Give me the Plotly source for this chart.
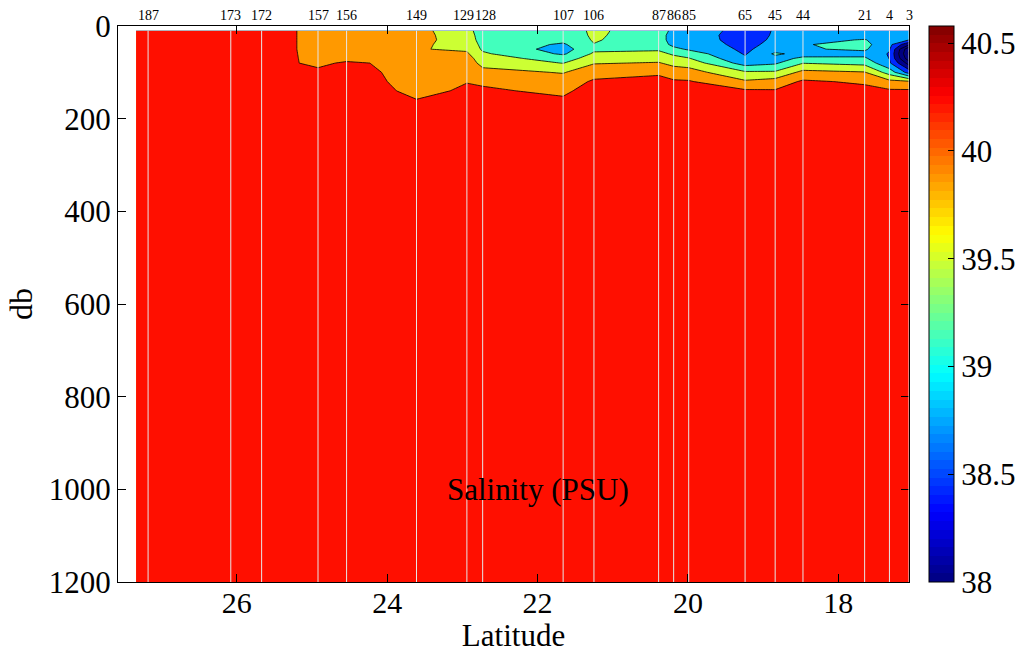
import plotly.graph_objects as go

# ---------------- data ----------------
depth_db = [10, 20, 30, 40, 50, 60, 70, 80, 100, 120, 140, 160, 200, 300, 500, 800, 1200]

# latitude of each gridded profile (first column is the western data edge)
grid_lat = [27.34, 27.18, 26.08, 25.67, 24.92, 24.54, 23.61, 22.94, 22.73, 21.66,
            21.25, 20.39, 20.19, 19.99, 19.24, 18.84, 18.47, 17.65, 17.32, 17.06]

station_lat = [27.18, 26.08, 25.67, 24.92, 24.54, 23.61, 22.94, 22.73, 21.66, 21.25,
               20.39, 20.19, 19.99, 19.24, 18.84, 18.47, 17.65, 17.32, 17.06]
station_id = ["187", "173", "172", "157", "156", "149", "129", "128", "107", "106",
              "87", "86", "85", "65", "45", "44", "21", "4", "3"]

# salinity (PSU) profiles at depth_db
sal_edge = [40.30, 40.30, 40.31, 40.32, 40.33, 40.34, 40.35, 40.36, 40.38, 40.40, 40.41, 40.42, 40.44, 40.47, 40.50, 40.52, 40.54]
sal_187 = [40.32, 40.32, 40.33, 40.34, 40.35, 40.36, 40.37, 40.38, 40.40, 40.41, 40.42, 40.43, 40.45, 40.48, 40.50, 40.52, 40.54]
sal_173 = [40.38, 40.38, 40.39, 40.40, 40.40, 40.41, 40.42, 40.42, 40.43, 40.44, 40.45, 40.46, 40.47, 40.49, 40.51, 40.53, 40.55]
sal_172 = [40.45, 40.45, 40.45, 40.45, 40.45, 40.45, 40.45, 40.45, 40.46, 40.47, 40.48, 40.48, 40.49, 40.50, 40.52, 40.53, 40.55]
sal_157 = [39.97, 39.97, 39.97, 39.97, 39.97, 39.98, 39.99, 40.00, 40.30, 40.35, 40.40, 40.42, 40.44, 40.48, 40.51, 40.53, 40.55]
sal_156 = [39.95, 39.95, 39.95, 39.95, 39.95, 39.95, 39.95, 40.25, 40.32, 40.36, 40.40, 40.42, 40.44, 40.48, 40.51, 40.53, 40.55]
sal_149 = [39.92, 39.92, 39.90, 39.85, 39.82, 39.88, 39.92, 39.95, 39.98, 40.00, 40.05, 40.16, 40.35, 40.45, 40.50, 40.53, 40.55]
sal_129 = [39.55, 39.60, 39.65, 39.70, 39.75, 39.85, 39.95, 39.98, 40.05, 40.14, 40.20, 40.30, 40.40, 40.46, 40.50, 40.53, 40.55]
sal_128 = [39.30, 39.30, 39.30, 39.35, 39.40, 39.50, 39.60, 39.70, 39.90, 40.10, 40.20, 40.30, 40.40, 40.46, 40.50, 40.53, 40.55]
sal_107 = [39.30, 39.25, 39.20, 39.05, 38.95, 39.05, 39.30, 39.44, 39.78, 39.95, 40.08, 40.20, 40.38, 40.45, 40.50, 40.53, 40.55]
sal_106 = [39.50, 39.50, 39.48, 39.44, 39.38, 39.50, 39.60, 39.78, 40.00, 40.20, 40.30, 40.36, 40.42, 40.47, 40.50, 40.53, 40.55]
sal_87 = [39.30, 39.25, 39.25, 39.30, 39.40, 39.55, 39.70, 39.82, 40.10, 40.25, 40.35, 40.40, 40.44, 40.48, 40.51, 40.53, 40.55]
sal_86 = [39.00, 38.95, 38.95, 39.00, 39.20, 39.40, 39.55, 39.72, 39.95, 40.20, 40.30, 40.38, 40.44, 40.48, 40.51, 40.53, 40.55]
sal_85 = [38.95, 38.90, 38.90, 38.95, 39.05, 39.30, 39.47, 39.65, 39.95, 40.18, 40.30, 40.38, 40.44, 40.48, 40.51, 40.53, 40.55]
sal_65 = [38.62, 38.62, 38.63, 38.65, 38.68, 38.72, 38.80, 38.95, 39.50, 39.85, 40.20, 40.32, 40.42, 40.47, 40.50, 40.53, 40.55]
sal_45 = [38.77, 38.78, 38.80, 38.85, 38.95, 39.15, 39.00, 39.05, 39.50, 39.95, 40.18, 40.30, 40.40, 40.46, 40.50, 40.53, 40.55]
sal_44 = [38.90, 38.95, 39.00, 39.08, 39.07, 39.00, 39.15, 39.44, 39.90, 40.20, 40.30, 40.37, 40.43, 40.47, 40.50, 40.53, 40.55]
sal_21 = [38.90, 38.95, 39.12, 39.20, 39.15, 39.00, 39.15, 39.35, 39.82, 40.10, 40.25, 40.35, 40.42, 40.47, 40.50, 40.53, 40.55]
sal_4 = [38.95, 38.95, 38.90, 38.85, 38.78, 38.72, 38.74, 38.80, 39.30, 39.90, 40.20, 40.32, 40.42, 40.47, 40.50, 40.53, 40.55]
sal_3 = [38.90, 38.85, 38.75, 38.10, 37.40, 37.30, 37.45, 37.90, 38.60, 39.85, 40.20, 40.32, 40.42, 40.47, 40.50, 40.53, 40.55]

profiles = [sal_edge, sal_187, sal_173, sal_172, sal_157, sal_156, sal_149, sal_129, sal_128,
            sal_107, sal_106, sal_87, sal_86, sal_85, sal_65, sal_45, sal_44, sal_21, sal_4, sal_3]

cbar_ticks = [38, 38.5, 39, 39.5, 40, 40.5]
cbar_min, cbar_max = 38.0, 40.58

# ---------------- styling ----------------
FONT = "Liberation Serif"

# table (depth rows x latitude columns)
z = [[p[i] for p in profiles] for i in range(len(depth_db))]

# fill colours for the 10 contour bands (below 37.35 ... above 40.15)
band_colors = ["rgb(0,0,128)", "rgb(0,0,128)", "rgb(0,0,128)", "rgb(0,0,143)",
               "rgb(0,41,255)", "rgb(0,168,255)", "rgb(66,255,189)",
               "rgb(204,255,51)", "rgb(255,153,0)", "rgb(255,15,0)"]
nb = len(band_colors) - 1
band_scale = [[j / nb, c] for j, c in enumerate(band_colors)]


def jet(x):
    def cl(v):
        return max(0.0, min(1.0, v))
    r = cl(1.5 - abs(4 * x - 3))
    g = cl(1.5 - abs(4 * x - 2))
    b = cl(1.5 - abs(4 * x - 1))
    return "rgb(%d,%d,%d)" % (round(r * 255), round(g * 255), round(b * 255))


jet64 = []
for k in range(64):
    c = jet((k + 0.5) / 64)
    jet64.append([k / 64, c])
    jet64.append([(k + 1) / 64, c])

fig = go.Figure()

fig.add_trace(go.Contour(
    x=grid_lat, y=depth_db, z=z,
    autocontour=False,
    contours=dict(start=37.35, end=40.15, size=0.35, coloring="fill", showlines=True),
    line=dict(color="black", width=0.8, smoothing=0),
    colorscale=band_scale, showscale=False, hoverinfo="skip",
))

# colour bar (continuous jet)
fig.add_trace(go.Scatter(
    x=[None], y=[None], mode="markers", showlegend=False, hoverinfo="skip",
    marker=dict(color=[cbar_min], cmin=cbar_min, cmax=cbar_max, colorscale=jet64,
                showscale=True,
                colorbar=dict(x=(929 - 118) / 791, xanchor="left", xpad=0, ypad=0,
                              y=0.5, yanchor="middle", len=1, lenmode="fraction",
                              thickness=25, thicknessmode="pixels",
                              outlinewidth=1, outlinecolor="black",
                              tickvals=cbar_ticks, ticks="inside", ticklen=6,
                              tickcolor="black",
                              tickfont=dict(family=FONT, size=31, color="black"))),
))

# station lines
for lat in station_lat:
    fig.add_shape(type="line", xref="x", yref="y", x0=lat, x1=lat,
                  y0=depth_db[0], y1=depth_db[-1],
                  line=dict(color="rgb(230,230,230)", width=1), layer="above")

# station labels (the two crowded ones nudged apart slightly)
label_nudge = {"129": -3, "128": 3}
for lat, sid in zip(station_lat, station_id):
    fig.add_annotation(x=lat, y=1, xref="x", yref="paper", yanchor="bottom",
                       text=sid, showarrow=False, yshift=1,
                       xshift=label_nudge.get(sid, 0),
                       font=dict(family=FONT, size=14, color="black"))

fig.add_annotation(x=22, y=1000, xref="x", yref="y", text="Salinity (PSU)",
                   showarrow=False, font=dict(family=FONT, size=31, color="black"))

axis_common = dict(ticks="inside", ticklen=8, tickcolor="black", showline=True,
                   linecolor="black", linewidth=1, mirror="ticks", showgrid=False,
                   zeroline=False)

fig.update_layout(
    width=1019, height=653,
    margin=dict(l=118, r=110, t=26, b=71, autoexpand=False),
    paper_bgcolor="white", plot_bgcolor="white",
    showlegend=False,
    xaxis=dict(range=[27.58, 17.06], tickvals=[26, 24, 22, 20, 18],
               tickfont=dict(family=FONT, size=30, color="black"),
               ticklabelstandoff=-6,
               title=dict(text="Latitude", font=dict(family=FONT, size=31, color="black"),
                          standoff=2),
               **axis_common),
    yaxis=dict(range=[1200, 0], tickvals=[0, 200, 400, 600, 800, 1000, 1200],
               tickfont=dict(family=FONT, size=31, color="black"),
               title=dict(text="db", font=dict(family=FONT, size=32, color="black"),
                          standoff=6),
               **axis_common),
)

fig.write_html("out.html")
